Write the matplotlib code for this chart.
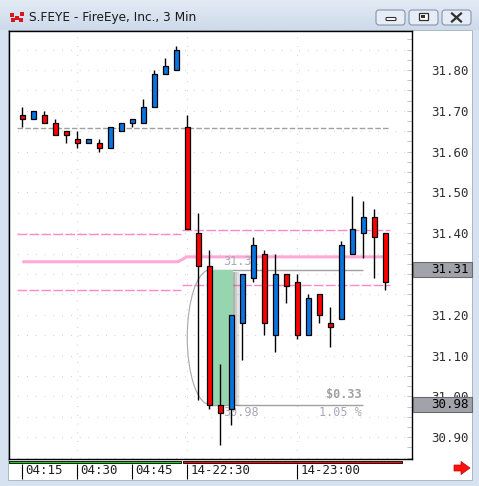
import numpy as np
import matplotlib
matplotlib.use("Agg")
import matplotlib.pyplot as plt
import matplotlib.transforms as mtransforms
from matplotlib.patches import Rectangle, FancyBboxPatch, Arc, Polygon

# ---- data (3 min bars) ----
opens  = [31.69, 31.68, 31.69, 31.67, 31.65, 31.63, 31.62, 31.62, 31.61, 31.65,
          31.67, 31.67, 31.71, 31.79, 31.80, 31.66, 31.40, 31.32, 30.98, 30.97,
          31.18, 31.29, 31.35, 31.15, 31.30, 31.28, 31.15, 31.25, 31.18, 31.19,
          31.35, 31.40, 31.44, 31.40]
highs  = [31.71, 31.70, 31.70, 31.68, 31.65, 31.65, 31.63, 31.63, 31.66, 31.67,
          31.68, 31.73, 31.80, 31.83, 31.86, 31.69, 31.45, 31.36, 31.08, 31.20,
          31.30, 31.39, 31.36, 31.35, 31.30, 31.30, 31.25, 31.25, 31.22, 31.38,
          31.49, 31.48, 31.46, 31.40]
lows   = [31.66, 31.68, 31.67, 31.64, 31.62, 31.61, 31.62, 31.60, 31.61, 31.65,
          31.66, 31.67, 31.71, 31.79, 31.80, 31.41, 30.99, 30.97, 30.88, 30.93,
          31.09, 31.28, 31.15, 31.11, 31.23, 31.14, 31.15, 31.18, 31.12, 31.19,
          31.35, 31.34, 31.29, 31.26]
closes = [31.68, 31.70, 31.67, 31.64, 31.64, 31.62, 31.63, 31.61, 31.66, 31.67,
          31.68, 31.71, 31.79, 31.81, 31.85, 31.41, 31.32, 30.98, 30.96, 31.20,
          31.30, 31.37, 31.18, 31.30, 31.27, 31.15, 31.24, 31.20, 31.17, 31.37,
          31.41, 31.44, 31.39, 31.28]

time_ticks = [0, 5, 10, 15, 25]
time_labels = ["04:15", "04:30", "04:45", "14-22:30", "14-23:00"]
grid_bars = [5, 15, 25]
price_ticks = [30.90, 31.00, 31.10, 31.20, 31.30, 31.40, 31.50, 31.60, 31.70, 31.80]

prev_close = 31.657
pink_old = [31.397, 31.33, 31.261]
pink_new = [31.407, 31.342, 31.272]
mid_x = [0, 14.15, 14.95, 32.8]
mid_y = [31.33, 31.33, 31.342, 31.342]

measure_top, measure_bot = 31.31, 30.98
measure_text = ["$0.33", "1.05 %"]
tag_values = [31.31, 30.98]

W, H = 479, 486
fig = plt.figure(figsize=(W / 100, H / 100), dpi=100)
fig.patch.set_facecolor("#d6e2f0")

def px(x0, y0, x1, y1):
    return [x0 / W, 1 - y1 / H, (x1 - x0) / W, (y1 - y0) / H]

# window decoration
deco = fig.add_axes([0, 0, 1, 1], zorder=-5)
deco.set_xlim(0, W)
deco.set_ylim(H, 0)
deco.axis("off")
grad = np.linspace(0, 1, 30)[:, None]
deco.imshow(grad, extent=(0, W, 30, 0), cmap=matplotlib.colors.LinearSegmentedColormap.from_list(
    "tb", ["#e3ebf5", "#cddaea"]), aspect="auto")
deco.add_patch(Rectangle((8, 30), 464, 450, facecolor="white", edgecolor="#aab8c8", lw=0.7))
deco.text(29, 17, "S.FEYE - FireEye, Inc., 3 Min", fontsize=8.7, va="center", color="#1a1a1a")
for (ix, iy) in [(10, 13), (15, 16), (20, 12), (11, 18), (19, 18)]:
    deco.add_patch(Rectangle((ix, iy), 4, 4, facecolor="#d81818", edgecolor="none"))
for bx in [376, 409, 442]:
    deco.add_patch(FancyBboxPatch((bx, 10), 29, 15, boxstyle="round,pad=0,rounding_size=3",
                                  facecolor="#e6edf6", edgecolor="#8595aa", lw=0.8))
deco.add_patch(FancyBboxPatch((386, 17.5), 10, 3, boxstyle="round,pad=0,rounding_size=1",
                              facecolor="white", edgecolor="#303030", lw=0.8))
deco.add_patch(Rectangle((419, 13.5), 9, 7, facecolor="white", edgecolor="#303030", lw=0.9))
deco.add_patch(Rectangle((421.5, 15.5), 4, 3, facecolor="#303030", edgecolor="none"))
deco.plot([452, 461], [13.5, 21.5], color="#303030", lw=1.6)
deco.plot([452, 461], [21.5, 13.5], color="#303030", lw=1.6)
deco.add_patch(Polygon([(454, 465), (461, 465), (461, 461.5), (470, 468), (461, 474.5),
                        (461, 471), (454, 471)], closed=True, facecolor="#ff1010", edgecolor="#c00000", lw=0.5))

# main price axes
x_lo = (9 - 22.3) / 11
x_hi = (412 - 22.3) / 11
y_lo = 31.80 - (459 - 70) / 408
y_hi = 31.80 + (70 - 31) / 408

ax = fig.add_axes(px(9, 31, 412, 459))
ax.set_xlim(x_lo, x_hi)
ax.set_ylim(y_lo, y_hi)
for s in ax.spines.values():
    s.set_color("black")
    s.set_linewidth(1)

# labels fully hidden under a price tag are left blank, as on the chart
hidden = [v for v in price_ticks if any(abs(v - t) < 0.015 for t in tag_values)]
ax.yaxis.tick_right()
ax.set_yticks(price_ticks)
ax.set_yticklabels(["" if v in hidden else "%.2f" % v for v in price_ticks])
ax.set_yticks(np.arange(30.85, 31.90, 0.025), minor=True)
ax.tick_params(axis="y", which="both", direction="in", length=3.6, width=0.7, color="#c4c4c4",
               pad=41, labelsize=9, labelcolor="#303030")
for lab in ax.get_yticklabels():
    lab.set_ha("right")
    lab.set_fontfamily("DejaVu Sans Mono")
ax.set_xticks([])

dot = (0, (0.7, 7.2))
for v in np.arange(30.85, 31.90, 0.05):
    ax.axhline(v, color="#c8c8c8", lw=0.8, ls=dot, zorder=0)
for b in grid_bars:
    ax.axvline(b, color="#c8c8c8", lw=0.8, ls=dot, zorder=0)

# reference lines
ax.hlines(prev_close, -0.5, 33.4, color="#a0a0a0", lw=1, linestyles=(0, (4, 1.6)), zorder=1)
for v in [pink_old[0], pink_old[2]]:
    ax.hlines(v, -0.5, 14.45, color="#ff88c8", lw=1, linestyles=(0, (7, 1.6)), zorder=1)
for v in [pink_new[0], pink_new[2]]:
    ax.hlines(v, 14.55, 33.4, color="#ff88c8", lw=1, linestyles=(0, (7, 1.6)), zorder=1)
ax.plot(mid_x, mid_y, color="#ffaad6", lw=2.2, zorder=1, solid_capstyle="butt")

# measurement overlay
ax.hlines([measure_top, measure_bot], 16.9, 31.0, color="#a0a0a0", lw=1, zorder=2)
gx0, gx1 = 17.15, 19.15
for k, a in enumerate([0.28, 0.2, 0.13, 0.07]):
    ax.add_patch(Rectangle((gx1 + 0.0, measure_bot - 0.004), 0.17 * (k + 1), measure_top - measure_bot,
                           facecolor="#707070", alpha=a, edgecolor="none", zorder=2))
ax.add_patch(Rectangle((gx0, measure_bot), gx1 - gx0, measure_top - measure_bot,
                       facecolor="#96d6ae", edgecolor="none", zorder=2.5))
ax.add_patch(Arc((17.06, (measure_top + measure_bot) / 2), 4.13, measure_top - measure_bot,
                 theta1=90, theta2=270, color="#a8a8a8", lw=0.8, zorder=2))
ax.text(18.25, measure_top + 0.004, "%.2f" % measure_top, fontsize=8.5, family="DejaVu Sans Mono",
        color="#a8a8b8", ha="left", va="bottom", zorder=2)
ax.text(18.25, measure_bot - 0.004, "%.2f" % measure_bot, fontsize=8.5, family="DejaVu Sans Mono",
        color="#a8a8b8", ha="left", va="top", zorder=2)
ax.text(30.88, measure_bot + 0.008, measure_text[0], fontsize=8.5, family="DejaVu Sans Mono",
        weight="bold", color="#a0a0a0", ha="right", va="bottom", zorder=2)
ax.text(30.88, measure_bot - 0.004, measure_text[1], fontsize=8.5, family="DejaVu Sans Mono",
        color="#a8a8b8", ha="right", va="top", zorder=2)

# candles
idx = np.arange(len(opens))
o = np.array(opens); c = np.array(closes)
colors = ["#0a74e0" if cc >= oo else "#ff0000" for oo, cc in zip(o, c)]
ax.vlines(idx, lows, highs, color="black", lw=1, zorder=3)
ax.bar(idx, np.maximum(np.abs(c - o), 0.004), bottom=np.minimum(o, c), width=0.5,
       color=colors, edgecolor="black", linewidth=0.9, zorder=4)

# price tags on the right axis
tr = mtransforms.blended_transform_factory(ax.transAxes, ax.transData)
half = 7.5 / 408
for v in tag_values:
    ax.add_patch(Rectangle(((413 - 9) / 403, v - half), 59 / 403, 2 * half, transform=tr,
                           facecolor="#a2a2aa", edgecolor="#6a6a6a", lw=0.8, clip_on=False, zorder=5))
    ax.text((469 - 9) / 403, v, "%.2f" % v, transform=tr, ha="right", va="center", fontsize=9,
            family="DejaVu Sans Mono", color="black", clip_on=False, zorder=6)

# time axis strip
ax2 = fig.add_axes(px(9, 459, 412, 479))
ax2.set_xlim(x_lo, x_hi)
ax2.set_ylim(20, 0)
for s in ax2.spines.values():
    s.set_visible(False)
ax2.patch.set_alpha(0)
ax2.set_yticks([])
ax2.broken_barh([(x_lo, 14.45 - x_lo)], (1.7, 2.6), facecolor="#22cc22", edgecolor="black", lw=0.6)
ax2.broken_barh([(14.6, 34.52 - 14.6)], (1.7, 2.6), facecolor="#ee1010", edgecolor="black", lw=0.6)
ax2.set_xticks(time_ticks)
ax2.set_xticklabels(time_labels)
ax2.tick_params(axis="x", direction="in", length=10.8, width=0.8, color="black",
                pad=-10.5, labelsize=9, labelcolor="#202020")
off = mtransforms.ScaledTranslation(3 / 100, 0, fig.dpi_scale_trans)
for lab in ax2.get_xticklabels():
    lab.set_ha("left")
    lab.set_fontfamily("DejaVu Sans Mono")
    lab.set_transform(lab.get_transform() + off)

fig.savefig("out.png", dpi=100)
